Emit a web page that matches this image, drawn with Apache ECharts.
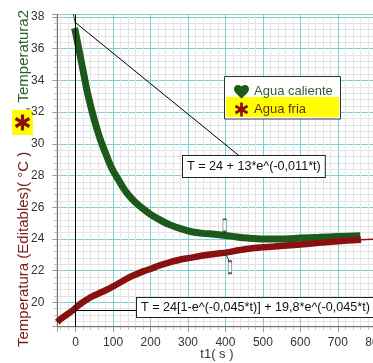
<!DOCTYPE html>
<html><head><meta charset="utf-8">
<script src="https://cdn.jsdelivr.net/npm/echarts@6/dist/echarts.min.js"></script>
<style>html,body{margin:0;padding:0;background:#fff}#c{width:373px;height:363px}</style>
</head><body><div id="c"></div>
<script>
// ---- data ----
const xTicks = [0,100,200,300,400,500,600,700,800];
const yTicks = [20,22,24,26,28,30,32,34,36,38];
const hotTime = [-3,0,10,20,30,40,50,60,70,80,90,100,110,125,140,160,180,200,225,250,280,310,340,370,400,430,460,500,550,600,650,700,760];
const hotTemp = [37.3,37.0,35.8,34.6,33.4,32.4,31.5,30.7,30.0,29.4,28.8,28.3,27.9,27.3,26.8,26.3,25.9,25.55,25.2,24.9,24.65,24.45,24.35,24.3,24.22,24.12,24.05,24.0,24.0,24.05,24.1,24.15,24.2];
const coldTime = [-49,-40,-25,-10,0,10,25,47,70,92,115,137,160,180,205,226,255,280,305,332,370,405,435,466,500,530,583,650,700,762];
const coldTemp = [18.75,18.95,19.2,19.45,19.65,19.85,20.1,20.4,20.65,20.9,21.2,21.5,21.75,21.95,22.15,22.35,22.55,22.7,22.8,22.92,23.05,23.15,23.28,23.4,23.47,23.52,23.62,23.75,23.85,23.95];
const hotFitTime = [-9,-1];
const hotFitTemp = [38.5,37.6];
const coldFitTime = [762,830];
const coldFitTemp = [23.95,24.0];
const markerTime = [398,412];
const markerTemp = [24.85,22.21];
const seriesNames = ['Agua caliente','Agua fria'];
const fitTexts = ['T = 24 + 13*e^(-0,011*t)','T = 24[1-e^(-0,045*t)] + 19,8*e^(-0,045*t)'];

const zip = (a,b)=>a.map((v,i)=>[v,b[i]]);
const heart = 'path://M12,21 L10.5,19.6 C5.4,15 2,12 2,8.3 C2,5.2 4.4,3 7.5,3 C9.2,3 10.9,3.8 12,5.1 C13.1,3.8 14.8,3 16.5,3 C19.6,3 22,5.2 22,8.3 C22,12 18.6,15 13.5,19.6 Z';
function asteriskArms(cx,cy,r,w){
  const arms=[];
  for(let k=0;k<3;k++){
    const a=Math.PI/2+k*Math.PI/3, ca=Math.cos(a), sa=Math.sin(a), px=-sa*w/2, py=ca*w/2;
    arms.push([[cx+ca*r+px,cy+sa*r+py],[cx-ca*r+px,cy-sa*r+py],[cx-ca*r-px,cy-sa*r-py],[cx+ca*r-px,cy+sa*r-py]]);
  }
  return arms;
}
const ast = 'path://'+asteriskArms(12,12,11,4.2).map(p=>'M'+p.map(q=>q[0].toFixed(2)+','+q[1].toFixed(2)).join(' L')+' Z').join(' ');
const RED='#8a1010', GREEN='#1c5a1c';
const FONT='"Liberation Sans", Arial, sans-serif';

const chart = echarts.init(document.getElementById('c'), null, {renderer:'canvas'});
const graphics = [
    {type:'rect', z:3, shape:{x:224.5,y:76.5,width:116,height:42.5}, style:{fill:'#fff', stroke:'#333', lineWidth:1}},
    {type:'rect', z:3, shape:{x:226,y:97,width:113,height:20}, style:{fill:'#ffff00'}},
    {type:'text', z:6, x:183, y:156, style:{text:fitTexts[0], font:'12.6px '+FONT, fill:'#111',
      backgroundColor:'#fff', borderColor:'#222', borderWidth:1, padding:[4,4,4,4]}},
    {type:'text', z:6, x:137, y:298, style:{text:fitTexts[1], font:'12.6px '+FONT, fill:'#111',
      backgroundColor:'#fff', borderColor:'#222', borderWidth:1, padding:[3,4,3,4]}},
    {type:'text', x:24, y:347, rotation:Math.PI/2, style:{text:'Temperatura (Editables)( °C )', font:'15px '+FONT, fill:'#7a1c1c', textAlign:'left', textVerticalAlign:'middle'}},
    {type:'text', x:24, y:10, rotation:Math.PI/2, style:{text:', Temperatura2', font:'15px '+FONT, fill:'#2e5e2e', textAlign:'right', textVerticalAlign:'middle'}},
    {type:'rect', shape:{x:12,y:110,width:21,height:25}, style:{fill:'#ffff00'}}
];
asteriskArms(22.5,122.5,8,3.2).forEach(p=>graphics.push({type:'polygon', shape:{points:p}, style:{fill:RED}}));

chart.setOption({
  animation:false,
  textStyle:{fontFamily:FONT},
  grid:{left:57.3, top:14.5, bottom:36.3, right:-13.5, containLabel:false, outerBoundsMode:'none',
    show:true, borderColor:'#707070', borderWidth:1, backgroundColor:'#fff'},
  xAxis:{type:'value', min:-49, max:830, splitNumber:9, minInterval:100, maxInterval:100,
    name:'t1( s )', nameLocation:'middle', nameGap:21, nameMoveOverlap:false,
    nameTextStyle:{color:'#333', fontSize:13, padding:[0,10,0,0], verticalAlign:'top'},
    axisLine:{show:true, onZero:false, lineStyle:{color:'#707070'}},
    axisTick:{show:true, length:5, lineStyle:{color:'#999'}},
    minorTick:{show:true, splitNumber:5, length:3, lineStyle:{color:'#bbb'}},
    axisLabel:{showMinLabel:false, showMaxLabel:false, color:'#333', fontSize:12, margin:10,
      formatter:v=>xTicks.includes(v)?String(v):''},
    splitLine:{show:true, lineStyle:{color:'#78d2d2', width:1}},
    minorSplitLine:{show:true, lineStyle:{color:'#e4e4e4', width:1}}},
  yAxis:{type:'value', min:18.46, max:38.16, splitNumber:10, minInterval:2, maxInterval:2,
    axisLine:{show:true, onZero:false, lineStyle:{color:'#707070'}},
    axisTick:{show:true, length:5, lineStyle:{color:'#999'}},
    minorTick:{show:true, splitNumber:5, length:3, lineStyle:{color:'#bbb'}},
    axisLabel:{showMinLabel:false, showMaxLabel:false, color:'#333', fontSize:12, margin:13,
      formatter:v=>yTicks.includes(v)?String(v):''},
    splitLine:{show:true, lineStyle:{color:'#78d2d2', width:1}},
    minorSplitLine:{show:true, lineStyle:{color:'#e4e4e4', width:1}}},
  legend:{show:true, orient:'vertical', left:229, top:80, itemWidth:15, itemHeight:14, itemGap:4,
    textStyle:{fontSize:13, fontFamily:FONT},
    data:[{name:seriesNames[0], icon:heart, textStyle:{color:'#3a5a3a'}},
          {name:seriesNames[1], icon:ast, textStyle:{color:'#6a2a18'}}]},
  series:[
    {name:'hotFit', type:'line', data:zip(hotFitTime,hotFitTemp), showSymbol:false, lineStyle:{color:GREEN,width:1}, z:3},
    {name:seriesNames[0], type:'line', data:zip(hotTime,hotTemp), showSymbol:false, smooth:0.3,
      itemStyle:{color:GREEN}, lineStyle:{color:GREEN, width:7}, z:3,
      markLine:{silent:true, symbol:'none', label:{show:false}, lineStyle:{color:'#000', width:1, type:'solid'},
        data:[ {xAxis:0},
          [{coord:[0,37.64]},{coord:[439,29.2]}],
          [{coord:[0,19.47]},{coord:[164,19.47]}] ]}},
    {name:'coldFit', type:'line', data:zip(coldFitTime,coldFitTemp), showSymbol:false, lineStyle:{color:RED,width:1.5}, z:3},
    {name:seriesNames[1], type:'line', data:zip(coldTime,coldTemp), showSymbol:false, smooth:0.3,
      itemStyle:{color:RED}, lineStyle:{color:RED, width:6.5}, z:3},
    {name:'conn1', type:'line', data:[[398,24.45],[395,24.25]], showSymbol:false, lineStyle:{color:'#333',width:1}, z:4},
    {name:'conn2', type:'line', data:[[399,23.1],[410,22.6]], showSymbol:false, lineStyle:{color:'#333',width:1}, z:4},
    {name:'markers', type:'scatter', data:zip(markerTime,markerTemp), symbol:'rect', symbolSize:[3.5,12],
      itemStyle:{color:'#fff', borderColor:'#333', borderWidth:1}, z:5}
  ],
  graphic:graphics
});
</script></body></html>
